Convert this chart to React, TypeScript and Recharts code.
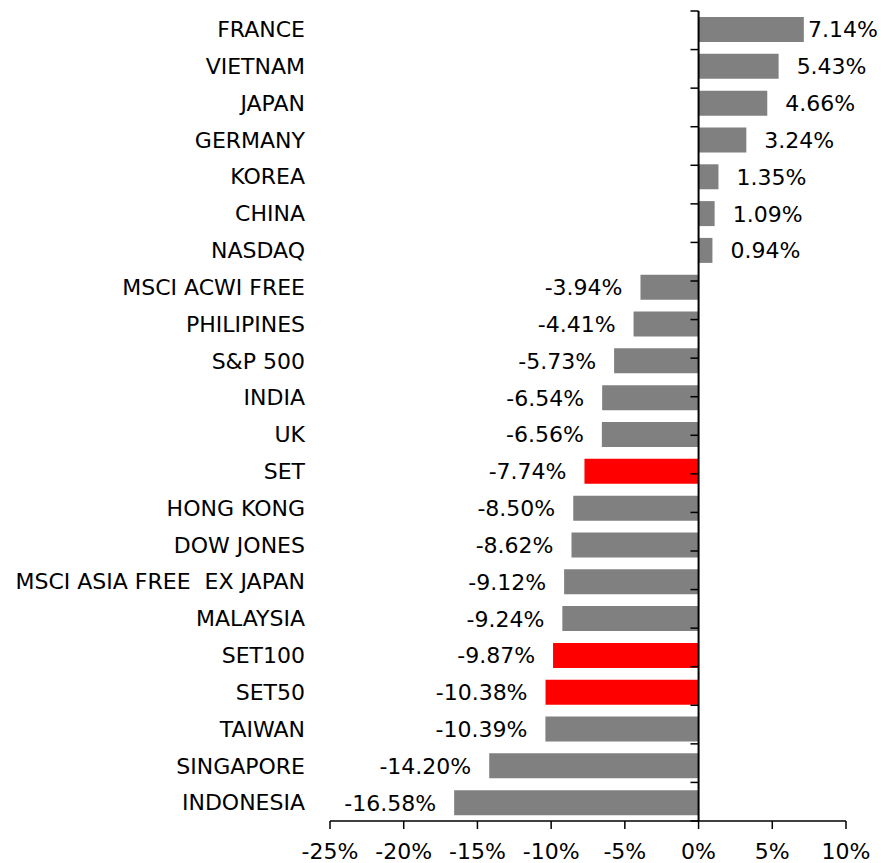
import React from 'react';
import { BarChart, Bar, XAxis, YAxis, Cell, LabelList, ReferenceLine } from 'recharts';

const categories = [
  'FRANCE', 'VIETNAM', 'JAPAN', 'GERMANY', 'KOREA', 'CHINA', 'NASDAQ',
  'MSCI ACWI FREE', 'PHILIPINES', 'S&P 500', 'INDIA', 'UK', 'SET', 'HONG KONG',
  'DOW JONES', 'MSCI ASIA FREE\u00a0 EX JAPAN', 'MALAYSIA', 'SET100', 'SET50', 'TAIWAN',
  'SINGAPORE', 'INDONESIA',
];
const values = [
  7.14, 5.43, 4.66, 3.24, 1.35, 1.09, 0.94,
  -3.94, -4.41, -5.73, -6.54, -6.56, -7.74, -8.5,
  -8.62, -9.12, -9.24, -9.87, -10.38, -10.39,
  -14.2, -16.58,
];
const highlighted = ['SET', 'SET100', 'SET50'];
const xTicks = [-25, -20, -15, -10, -5, 0, 5, 10];
const boundaryTicks = Array.from({ length: categories.length + 1 }, (_, i) => i);

const data = categories.map((name, i) => ({ name, value: values[i] }));

const FONT = '"DejaVu Sans", Verdana, sans-serif';
const FS = 22;
const CHART_W = 871;
const CHART_H = 855;
const LABEL_MAX_START = CHART_W - 72;

const ValueLabel = (props: any) => {
  const { x, y, width, height, value } = props;
  const a = Number(x);
  const b = Number(x) + Number(width);
  const cy = Number(y) + Number(height) / 2;
  const pos = value >= 0;
  const end = pos ? Math.max(a, b) : Math.min(a, b);
  let tx = end - 18;
  let anchor: 'start' | 'end' = 'end';
  if (pos) {
    if (end + 18 > LABEL_MAX_START) {
      tx = CHART_W - 1;
      anchor = 'end';
    } else {
      tx = end + 18;
      anchor = 'start';
    }
  }
  return (
    <text
      x={tx}
      y={cy}
      dy="0.36em"
      textAnchor={anchor}
      fontSize={FS}
      fontFamily={FONT}
      fill="#000"
    >
      {Number(value).toFixed(2) + '%'}
    </text>
  );
};

export default function App() {
  return (
    <div>
      <style>{'html,body{overflow:hidden;}'}</style>
      <BarChart
        width={CHART_W}
        height={CHART_H}
        data={data}
        layout="vertical"
        margin={{ top: 3, right: 33, bottom: 0, left: 0 }}
        style={{ fontFamily: FONT }}
      >
        <XAxis
          type="number"
          domain={[-25, 10]}
          ticks={xTicks}
          tickFormatter={(v: number) => `${v}%`}
          axisLine={{ stroke: '#000', strokeWidth: 1.5 }}
          tickLine={{ stroke: '#000', strokeWidth: 1.5 }}
          tickSize={8}
          tickMargin={14}
          height={42}
          tick={{ fontSize: FS, fill: '#000', fontFamily: FONT }}
          interval={0}
        />
        <YAxis
          type="category"
          dataKey="name"
          width={322}
          axisLine={false}
          tickLine={false}
          tickSize={0}
          tickMargin={25}
          interval={0}
          tick={{ fontSize: FS, fill: '#000', fontFamily: FONT }}
        />
        <YAxis yAxisId="b" type="number" domain={[0, categories.length]} hide />
        <Bar dataKey="value" barSize={25} isAnimationActive={false}>
          {data.map((d) => (
            <Cell key={d.name} fill={highlighted.includes(d.name) ? '#FF0000' : '#808080'} />
          ))}
          <LabelList dataKey="value" content={ValueLabel} />
        </Bar>
        <ReferenceLine x={0} stroke="#000" strokeWidth={2} />
        {boundaryTicks.map((k) => (
          <ReferenceLine
            key={k}
            yAxisId="b"
            segment={[{ x: -0.55, y: k }, { x: 0, y: k }]}
            stroke="#000"
            strokeWidth={1.5}
          />
        ))}
      </BarChart>
    </div>
  );
}
